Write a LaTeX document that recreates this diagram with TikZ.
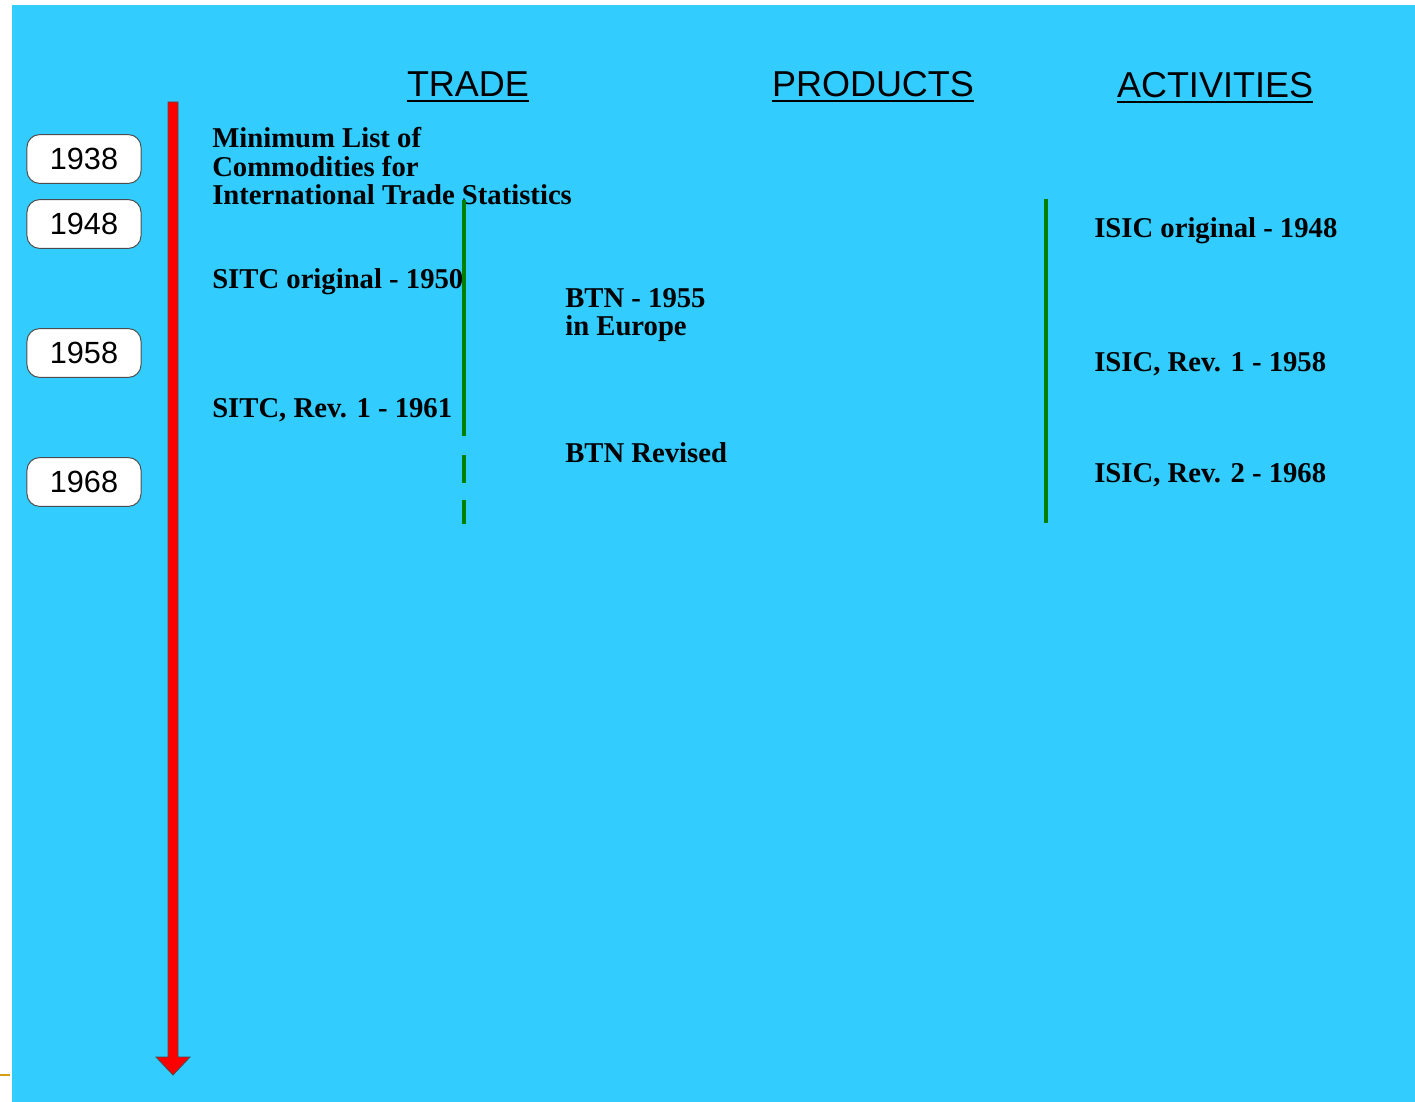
\documentclass[tikz,border=0pt]{standalone}
\usepackage{fontspec}
\setmainfont{Liberation Serif}
\newfontfamily\headfont{Liberation Sans}
\usetikzlibrary{arrows.meta, positioning}

\begin{document}
\begin{tikzpicture}[
    x=0.025cm, y=-0.025cm,
    yearbox/.style={draw=black!70, fill=white, rounded corners=9pt, line width=0.7pt,
                    minimum width=2.85cm, minimum height=1.22cm, inner sep=0pt,
                    font=\headfont\fontsize{21.8}{24}\selectfont},
    colhead/.style={font=\headfont\fontsize{25.6}{28}\selectfont, inner sep=0pt, anchor=base},
    entry/.style={font=\bfseries\fontsize{20.4}{20.4}\selectfont, inner sep=0pt,
                  anchor=base west, align=left},
    series/.style={draw=lineGreen, line width=2.2pt},
]

\definecolor{bgBlue}{RGB}{51,204,255}
\definecolor{lineGreen}{RGB}{0,128,0}
\definecolor{markGold}{RGB}{212,160,16}

% ============================================================
% CANVAS
% ============================================================
\useasboundingbox (0, 0) rectangle (1415, 1102);
\fill[bgBlue] (12, 5) rectangle (1415, 1102);
\draw[markGold, line width=2pt] (0, 1075) -- (10, 1075);

% ============================================================
% TIME AXIS (red arrow)
% ============================================================
\fill[red, draw=black!70, line width=0.6pt]
    (168, 102) -- (178, 102) -- (178, 1057) -- (190, 1057) -- (173, 1075)
    -- (156, 1057) -- (168, 1057) -- cycle;

% year markers
\node[yearbox] (y1938) at (84, 159) {1938};
\node[yearbox] (y1948) at (84, 224) {1948};
\node[yearbox] (y1958) at (84, 353) {1958};
\node[yearbox] (y1968) at (84, 482) {1968};

% ============================================================
% COLUMN HEADINGS
% ============================================================
\node[colhead] (hTrade)    at (468, 97)  {TRADE};
\node[colhead] (hProducts) at (873, 97)  {PRODUCTS};
\node[colhead] (hActivity) at (1215, 98) {ACTIVITIES};
\foreach \h in {hTrade, hProducts, hActivity} {
    \draw[line width=1.4pt] ([yshift=-3pt]\h.base west) -- ([yshift=-3pt]\h.base east);
}

% ============================================================
% TRADE
% ============================================================
% (base of a multi-line entry = bottom of its last line)
\node[entry] (mlc) at (212, 205)
    {Minimum List of\\Commodities for\\International Trade Statistics};
\node[entry] (sitc0) at (212, 289) {SITC original - 1950};
\node[entry] (sitc1) at (212, 418) {SITC, Rev. 1 - 1961};

\coordinate (tradeTop) at (464, 200);
\coordinate (tradeEnd) at (464, 436);
\draw[series] (tradeTop) -- (tradeEnd);
% dashed continuation after 1961
\draw[series] ([yshift=-13.5pt]tradeEnd) -- ([yshift=-33.4pt]tradeEnd);
\draw[series] ([yshift=-45.5pt]tradeEnd) -- ([yshift=-62.6pt]tradeEnd);

% ============================================================
% PRODUCTS
% ============================================================
\node[entry] (btn)  at (565, 336) {BTN - 1955\\in Europe};
\node[entry] (btnR) at (565, 463) {BTN Revised};

% ============================================================
% ACTIVITIES
% ============================================================
\node[entry] (isic0) at (1094, 238) {ISIC original - 1948};
\node[entry] (isic1) at (1094, 372) {ISIC, Rev. 1 - 1958};
\node[entry] (isic2) at (1094, 483) {ISIC, Rev. 2 - 1968};

\coordinate (actTop) at (1046, 199);
\coordinate (actEnd) at (1046, 523);
\draw[series] (actTop) -- (actEnd);

\end{tikzpicture}
\end{document}
